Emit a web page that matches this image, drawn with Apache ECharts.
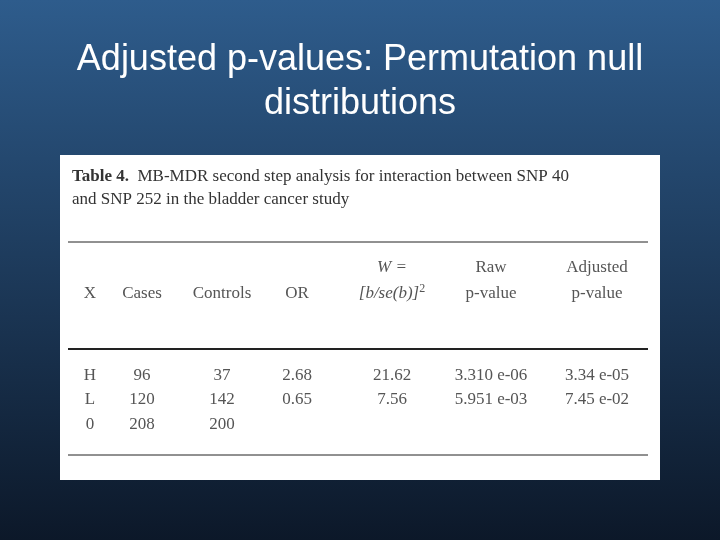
<!DOCTYPE html>
<html><head><meta charset="utf-8">
<script src="https://cdn.jsdelivr.net/npm/echarts@6/dist/echarts.min.js"></script>
<style>html,body{margin:0;padding:0}#main{width:720px;height:540px}</style>
</head><body><div id="main"></div>
<script>
// table data
const colX = [90, 142, 222, 297, 392, 491, 597];
const headers = ['X', 'Cases', 'Controls', 'OR', '[b/se(b)]²', 'p-value', 'p-value'];
const headersTop = ['', '', '', '', 'W =', 'Raw', 'Adjusted'];
const rowX = ['H', 'L', '0'];
const cases = ['96', '120', '208'];
const controls = ['37', '142', '200'];
const orVals = ['2.68', '0.65', ''];
const wVals = ['21.62', '7.56', ''];
const rawP = ['3.310 e-06', '5.951 e-03', ''];
const adjP = ['3.34 e-05', '7.45 e-02', ''];
const rowY = [376, 400, 425];

const serif = '"Liberation Serif","DejaVu Serif",serif';
const grey = '#555';
const els = [];
els.push({type:'rect', shape:{x:60,y:155,width:600,height:325}, style:{fill:'#fff'}});
els.push({type:'text', style:{x:360,y:82,text:'Adjusted p-values: Permutation null\ndistributions',
  fill:'#fff', font:'36px "Liberation Sans",sans-serif', align:'center', verticalAlign:'middle', lineHeight:44}});
els.push({type:'text', style:{x:72,y:177,text:'{b|Table 4.}  MB-MDR second step analysis for interaction between SNP 40',
  rich:{b:{font:'bold 17px '+serif, fill:'#333'}}, fill:'#333', font:'17px '+serif, verticalAlign:'middle'}});
els.push({type:'text', style:{x:72,y:200,text:'and SNP 252 in the bladder cancer study', fill:'#333', font:'17px '+serif, verticalAlign:'middle'}});
[[242,1],[349,1.8],[455,1]].forEach(([y,w]) => els.push({type:'line', shape:{x1:68,y1:y,x2:648,y2:y}, style:{stroke:'#222', lineWidth:w}}));
colX.forEach((x,i) => {
  const t = i === 4 ? '[b/se(b)]{s|2}' : headers[i];
  els.push({type:'text', style:{x:x,y:294,text:t,fill:grey,font:(i===4?'italic ':'')+'17px '+serif,align:'center',verticalAlign:'middle',
    rich:{s:{font:'12px '+serif, fill:grey, verticalAlign:'top', padding:[0,0,10,0]}}}});
  if (headersTop[i]) els.push({type:'text', style:{x:x,y:268,text:headersTop[i],fill:grey,font:(i===4?'italic ':'')+'17px '+serif,align:'center',verticalAlign:'middle'}});
});
const cols = [rowX, cases, controls, orVals, wVals, rawP, adjP];
cols.forEach((col,i) => col.forEach((v,j) => {
  if (v) els.push({type:'text', style:{x:colX[i],y:rowY[j],text:v,fill:grey,font:'17px '+serif,align:'center',verticalAlign:'middle'}});
}));

const chart = echarts.init(document.getElementById('main'));
chart.setOption({
  backgroundColor: new echarts.graphic.LinearGradient(0,0,0,1,[{offset:0,color:'#2e5c8c'},{offset:1,color:'#0c1829'}]),
  graphic: els
});
</script></body></html>
